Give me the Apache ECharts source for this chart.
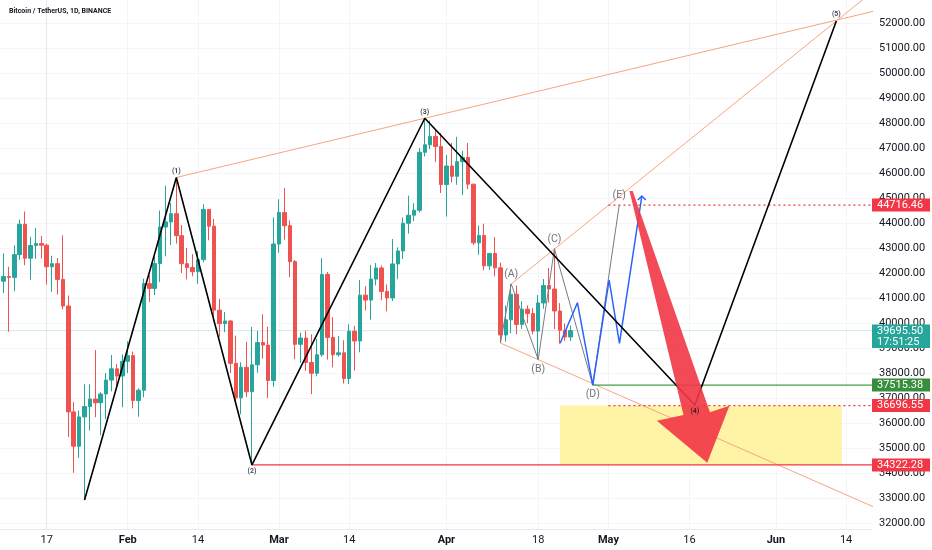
<!DOCTYPE html>
<html><head><meta charset="utf-8">
<script src="https://cdn.jsdelivr.net/npm/echarts@6/dist/echarts.min.js"></script>
<style>html,body{margin:0;padding:0;background:#fff}#c{width:932px;height:550px}</style>
</head><body><div id="c"></div><script>
// ---- candle data (BTCUSDT, 1D) ----
const dates = ['2022-01-09','2022-01-10','2022-01-11','2022-01-12','2022-01-13','2022-01-14','2022-01-15','2022-01-16','2022-01-17','2022-01-18','2022-01-19','2022-01-20','2022-01-21','2022-01-22','2022-01-23','2022-01-24','2022-01-25','2022-01-26','2022-01-27','2022-01-28','2022-01-29','2022-01-30','2022-01-31',
'2022-02-01','2022-02-02','2022-02-03','2022-02-04','2022-02-05','2022-02-06','2022-02-07','2022-02-08','2022-02-09','2022-02-10','2022-02-11','2022-02-12','2022-02-13','2022-02-14','2022-02-15','2022-02-16','2022-02-17','2022-02-18','2022-02-19','2022-02-20','2022-02-21','2022-02-22','2022-02-23','2022-02-24','2022-02-25','2022-02-26','2022-02-27','2022-02-28',
'2022-03-01','2022-03-02','2022-03-03','2022-03-04','2022-03-05','2022-03-06','2022-03-07','2022-03-08','2022-03-09','2022-03-10','2022-03-11','2022-03-12','2022-03-13','2022-03-14','2022-03-15','2022-03-16','2022-03-17','2022-03-18','2022-03-19','2022-03-20','2022-03-21','2022-03-22','2022-03-23','2022-03-24','2022-03-25','2022-03-26','2022-03-27','2022-03-28','2022-03-29','2022-03-30','2022-03-31',
'2022-04-01','2022-04-02','2022-04-03','2022-04-04','2022-04-05','2022-04-06','2022-04-07','2022-04-08','2022-04-09','2022-04-10','2022-04-11','2022-04-12','2022-04-13','2022-04-14','2022-04-15','2022-04-16','2022-04-17','2022-04-18','2022-04-19','2022-04-20','2022-04-21','2022-04-22','2022-04-23','2022-04-24'];
const opens = [41672,41864,41822,42735,43949,42591,43099,43177,43113,42250,42375,41744,40680,36445,35071,36244,36660,36958,36809,37160,37716,38166,37881,
38466,38694,36896,37311,41574,41382,42380,43840,44043,44373,43495,42373,42217,42053,42535,44544,43873,40515,39974,40079,38386,37008,38230,37250,38328,39219,39116,37699,
43160,44421,43892,42454,39148,39397,38420,37988,38730,41941,39422,38730,38807,37777,39671,39280,41114,40917,41757,42201,41262,41002,42364,42882,43991,44313,44511,46828,47128,47465,47063,
45538,46281,45868,46453,46622,45555,43206,43503,42287,42782,42207,39521,40127,41147,39942,40552,40378,39678,40801,41501,41358,40480,39709,39441];
const highs = [42786,42249,43100,44135,44459,43448,43800,43479,43176,42691,42597,43505,41100,36835,36499,37550,37545,38919,37234,38000,38720,38359,38744,
39265,38855,37387,41772,41913,42656,44500,45492,44799,45821,43920,43000,42760,42876,44751,44549,44164,40959,40444,40125,39494,38429,39249,39843,39683,40348,39855,44225,
44949,45400,44101,42527,39613,39693,39547,39362,42594,42039,40236,39486,39310,39947,39887,41718,41478,42325,42400,42296,41544,43361,43025,44220,45094,44792,46999,48190,48096,47700,47600,
46720,47213,47444,46888,47200,45555,43900,43970,42800,43434,42414,40700,41561,41500,40870,40709,40595,41116,41760,42199,42976,40795,39980,39900];
const lows = [41200,39650,41268,42528,42311,41725,42565,42581,41540,41250,41138,40553,35440,34008,34601,32917,35701,36234,35507,36155,37268,37351,36632,
38000,36586,36250,37026,40843,41116,41645,42667,43117,43174,42000,41748,41870,41570,42427,43307,40073,39450,39639,38000,36800,36350,37036,34322,38014,38573,37000,37450,
42809,43334,41832,38550,38407,38088,37155,37867,38656,38539,38224,38660,37578,37555,38098,38828,40500,40135,41499,40911,40467,40875,41751,42560,43579,44072,44421,46663,46950,46445,45200,
44255,45620,45530,45118,45353,43121,42727,42107,42126,41868,39200,39254,39589,39552,39766,39991,39546,38536,40571,40820,39751,39177,39285,39285];
const closes = [41864,41822,42735,43949,42591,43099,43177,43113,42250,42375,41744,40680,36445,35071,36244,36660,36958,36809,37160,37716,38166,37881,38466,
38694,36896,37311,41574,41382,42380,43840,44043,44373,43495,42373,42217,42053,42535,44544,43873,40515,39974,40079,38386,37008,38230,37250,38327,39219,39116,37700,43160,
44421,43892,42454,39148,39397,38420,37988,38730,41941,39422,38730,38807,37777,39671,39280,41114,40917,41757,42201,41262,41002,42364,42882,43991,44313,44511,46827,47128,47465,47062,45538,
46281,45868,46453,46622,45555,43206,43503,42287,42782,42207,39521,40127,41147,39942,40552,40378,39678,40801,41500,41358,40480,39709,39441,39695.5];

// ---- axis ticks ----
const xTickDates = ['2022-01-17','2022-02-01','2022-02-14','2022-03-01','2022-03-14','2022-04-01','2022-04-18','2022-05-01','2022-05-16','2022-06-01','2022-06-14'];
const xTickLabels = ['17','Feb','14','Mar','14','Apr','18','May','16','Jun','14'];
const xMonthLabels = ['Feb','Mar','Apr','May','Jun'];
const yTicks = [32000,33000,34000,35000,36000,37000,38000,39000,40000,41000,42000,43000,44000,45000,46000,47000,48000,49000,50000,51000,52000];

// ---- drawings (x in days from 2022-01-17, y in price) ----
const wavePoints = [[7,32917],[24,45821],[38,34322.28],[70,48190],[120,36720],[146.2,52080]];
const waveNames = ['', '(1)','(2)','(3)','(4)','(5)'];
const wavePos = ['bottom','top','bottom','top','bottom','top'];
const abcdePoints = [[84,39200],[86,41561],[91,38536],[94,42976],[101.1,37515.38],[106,44716.46]];
const abcdeNames = ['', '(A)','(B)','(C)','(D)','(E)'];
const abcdePos = ['bottom','top','bottom','top','bottom','top'];
const bluePath = [[95.06,39188],[98.26,40812],[101.1,37515.38],[104.13,41720],[106.04,39188],[110.19,45080]];
const trendA = [[24,45821],[70,48190]];
const trendB = [[86,41561],[146.2,52080]];
const trendC = [[84,39200],[91,38536]];
const zone = [95.06, 36696.55, 147.2, 34322.28];
const arrowPts = [[107.9,45280],[108.5,45280],[122.8,36427],[126.4,36692],[122.3,34412],[112.96,36092],[117.9,36320]];
const levels = [
  {price:44716.46, from:104, color:'#f23645', type:[2,3]},
  {price:37515.38, from:101.1, color:'#43a047', type:'solid'},
  {price:36696.55, from:104, color:'#f23645', type:[2,3]},
  {price:34322.28, from:38, color:'#f23645', type:'solid'}
];
const lastPrice = 39695.50;
const countdown = '17:51:25';
const tagPrices = [44716.46, 37515.38, 36696.55, 34322.28];
const tagColors = ['#f23645', '#388e3c', '#f23645', '#f23645'];

const DAY0 = Date.UTC(2022,0,17);
const dayOf = s => (Date.UTC(+s.slice(0,4), +s.slice(5,7)-1, +s.slice(8,10)) - DAY0) / 86400000;
const XMIN = -8.65, XMAX = 152.8;
const xTickDays = xTickDates.map(dayOf);
const extend = (p, toX) => { const [a,b] = p; const s = (b[1]-a[1])/(b[0]-a[0]); return [a, [toX, a[1] + s*(toX-a[0])]]; };

const candles = dates.map((d,i) => [dayOf(d), opens[i], closes[i], lows[i], highs[i]]);
const FONT = 'Roboto, "Noto Sans", sans-serif';

function labelSeries(points, names, pos, size, color, dist, weight) {
  const data = [];
  points.forEach((p,i) => { if (names[i]) data.push({value:p, label:{show:true, formatter: names[i], position: pos[i], distance: dist,
      fontSize:size, color:color, fontFamily:FONT, fontWeight: weight || 'normal'}}); });
  return { type:'scatter', symbolSize:2, itemStyle:{color:'rgba(0,0,0,0)'}, z:9, silent:true, data, animation:false };
}
const lineS = (data, color, width, z, type) => ({type:'line', data, showSymbol:false, symbol:'none', silent:true, z:z||3,
  lineStyle:{color, width, type: type||'solid'}, clip:true, animation:false});

const chart = echarts.init(document.getElementById('c'));
const option = {
  animation:false,
  backgroundColor:'#ffffff',
  title:{text:'Bitcoin / TetherUS, 1D, BINANCE', left:4, top:3, textStyle:{fontSize:7, fontWeight:'bold', color:'#131722', fontFamily:FONT}},
  grid:{left:0, right:60, top:0, bottom:21},
  xAxis:{type:'value', min:XMIN, max:XMAX,
    axisLine:{show:true, lineStyle:{color:'#e6e8ee'}},
    axisTick:{show:false, customValues:xTickDays},
    splitLine:{show:true, lineStyle:{color:'#f4f5f8'}},
    axisLabel:{customValues:xTickDays, margin:6, fontSize:11, color:'#131722', fontFamily:FONT,
      formatter: v => { const i = xTickDays.indexOf(v); const t = xTickLabels[i] || ''; return xMonthLabels.includes(t) ? '{b|'+t+'}' : t; },
      rich:{b:{fontWeight:'bold', fontSize:11, color:'#131722', fontFamily:FONT}}}
  },
  yAxis:{type:'value', position:'right', min:31760, max:52920, scale:true,
    axisLine:{show:true, lineStyle:{color:'#e6e8ee'}},
    axisTick:{show:false, customValues:yTicks},
    splitLine:{show:true, lineStyle:{color:'#f4f5f8'}},
    axisLabel:{customValues:yTicks, margin:7, fontSize:11, color:'#131722', fontFamily:FONT, formatter: v => v.toFixed(2)}
  },
  series:[
    {type:'custom', z:1, silent:true, data:[[zone[0], zone[1]]],
      renderItem:(params, api) => { const a = api.coord([zone[0], zone[1]]), b = api.coord([zone[2], zone[3]]);
        return {type:'rect', shape:{x:a[0], y:a[1], width:b[0]-a[0], height:b[1]-a[1]}, style:{fill:'#fff3a6'}}; }},
    lineS([[XMIN,lastPrice],[XMAX,lastPrice]], 'rgba(38,166,154,0.22)', 1, 1),
    {type:'candlestick', z:2, barWidth:4, encode:{x:0, y:[1,2,3,4]}, data:candles, silent:true,
      itemStyle:{color:'#26a69a', color0:'#ef5350', borderColor:'#26a69a', borderColor0:'#ef5350', borderWidth:1}},
    lineS(extend(trendA, 170), '#f7a47f', 1, 3),
    lineS(extend(trendB, 170), '#f7a47f', 1, 3),
    lineS(extend(trendC, 170), '#f7a47f', 1, 3),
    ...levels.map(l => lineS([[l.from, l.price],[XMAX, l.price]], l.color, 1.3, 3, l.type)),
    lineS(abcdePoints, '#787b86', 1, 4),
    lineS(bluePath, '#2962ff', 1.5, 4),
    lineS(wavePoints, '#000000', 1.6, 4),
    {type:'custom', z:4, silent:true, data:[bluePath[bluePath.length-1]],
      renderItem:(params, api) => { const p = api.coord(bluePath[bluePath.length-1]);
        return {type:'polyline', shape:{points:[[p[0]-4,p[1]+4],[p[0],p[1]],[p[0]+4,p[1]+4]]}, style:{stroke:'#2962ff', lineWidth:1.5, fill:null}}; }},
    {type:'custom', z:7, silent:true, data:[arrowPts[0]],
      renderItem:(params, api) => ({type:'polygon', shape:{points: arrowPts.map(p => api.coord(p))}, style:{fill:'rgba(242,54,69,0.9)'}})},
    labelSeries(wavePoints, waveNames, wavePos, 7, '#131722', 2, 'bold'),
    labelSeries(abcdePoints, abcdeNames, abcdePos, 10.5, '#50535e', 3)
  ]
};
chart.setOption(option);

const RX = 872, TW = 58;
const g = [];
tagPrices.forEach((p,i) => {
  const y = chart.convertToPixel({yAxisIndex:0}, p);
  g.push({type:'rect', z:100, shape:{x:RX, y:y-6.5, width:TW, height:13}, style:{fill:tagColors[i]}});
  g.push({type:'text', z:101, x:RX+5, y:y, style:{text:p.toFixed(2), fill:'#fff', fontSize:11, fontFamily:FONT, verticalAlign:'middle'}});
});
const yl = chart.convertToPixel({yAxisIndex:0}, lastPrice);
g.push({type:'rect', z:100, shape:{x:RX, y:yl-6, width:TW, height:23.5}, style:{fill:'#26a69a'}});
g.push({type:'text', z:101, x:RX+5, y:yl+0.5, style:{text:lastPrice.toFixed(2), fill:'#fff', fontSize:11, fontFamily:FONT, verticalAlign:'middle'}});
g.push({type:'text', z:101, x:RX+5, y:yl+11.5, style:{text:countdown, fill:'#fff', fontSize:11, fontFamily:FONT, verticalAlign:'middle'}});
chart.setOption({graphic:g});
</script></body></html>
